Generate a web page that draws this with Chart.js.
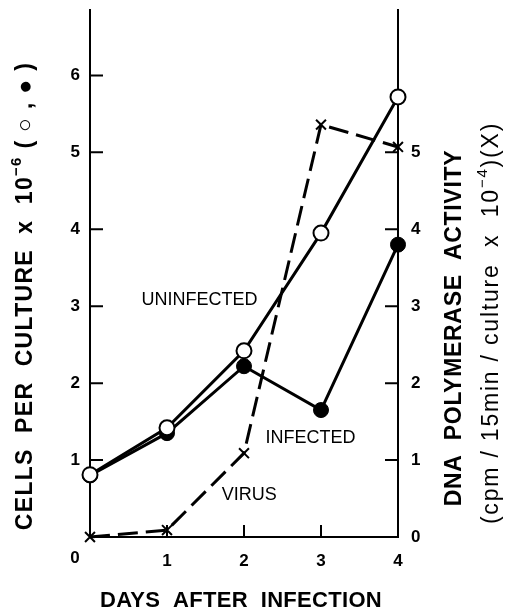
<!DOCTYPE html>
<html>
<head>
<meta charset="utf-8">
<script src="https://cdn.jsdelivr.net/npm/chart.js@4"></script>
<style>
  body { margin: 0; background: #fff; }
  #wrap { width: 508px; height: 610px; }
</style>
</head>
<body>
<div id="wrap"><canvas id="chart" width="508" height="610"></canvas></div>
<script>
/* ===== DATA ===== */
const days = [0, 1, 2, 3, 4];
const uninfected = [0.81, 1.42, 2.42, 3.95, 5.72];   // cells x 10^-6, open circles
const infected = [0.80, 1.35, 2.22, 1.65, 3.80];     // cells x 10^-6, filled circles
const virus = [0.0, 0.09, 1.09, 5.36, 5.07];         // DNA pol activity x 10^-4
const xTicks = [0, 1, 2, 3, 4];
const leftTicks = [1, 2, 3, 4, 5, 6];
const rightTicks = [0, 1, 2, 3, 4, 5];

const FONT = "'Liberation Sans', Arial, sans-serif";

const toPts = arr => days.map((d, i) => ({ x: d, y: arr[i] }));

/* draw a line of text made of pieces (for superscripts) centred at cx,cy */
function drawRich(ctx, parts, cx, cy, rot, spacing) {
  ctx.save();
  ctx.translate(cx, cy);
  if (rot) ctx.rotate(rot);
  ctx.textBaseline = "middle";
  ctx.textAlign = "left";
  ctx.letterSpacing = (spacing || 0) + "px";
  let total = 0;
  parts.forEach(p => { ctx.font = p.font; total += ctx.measureText(p.text).width; });
  let x = -total / 2;
  parts.forEach(p => {
    ctx.font = p.font;
    ctx.fillText(p.text, x, p.dy || 0);
    x += ctx.measureText(p.text).width;
  });
  ctx.restore();
}

/* ===== EXTRAS: inward ticks, titles, curve labels ===== */
const extras = {
  id: "extras",
  afterDraw(chart) {
    const { ctx, scales } = chart;
    const x = scales.x, yl = scales.yL, yr = scales.yR;
    ctx.save();
    ctx.strokeStyle = "#000";
    ctx.lineWidth = 2;
    ctx.beginPath();
    leftTicks.forEach(v => {
      const py = yl.getPixelForValue(v);
      ctx.moveTo(x.left, py); ctx.lineTo(x.left + 13, py);
    });
    rightTicks.slice(1).forEach(v => {
      const py = yr.getPixelForValue(v);
      ctx.moveTo(x.right, py); ctx.lineTo(x.right - 13, py);
    });
    [1, 2, 3].forEach(v => {
      const px = x.getPixelForValue(v);
      ctx.moveTo(px, yl.bottom); ctx.lineTo(px, yl.bottom - 12);
    });
    ctx.stroke();

    ctx.fillStyle = "#000";
    // "0" day label sits left of the corner
    ctx.font = "bold 17px " + FONT;
    ctx.textAlign = "center";
    ctx.textBaseline = "middle";
    ctx.fillText("0", x.getPixelForValue(0) - 15, 558);

    // curve labels
    ctx.font = "18px " + FONT;
    ctx.textAlign = "left";
    ctx.fillText("UNINFECTED", x.getPixelForValue(0.67), yl.getPixelForValue(3.08));
    ctx.fillText("INFECTED", x.getPixelForValue(2.28), yl.getPixelForValue(1.28));
    ctx.fillText("VIRUS", x.getPixelForValue(1.71), yl.getPixelForValue(0.55));

    // axis titles
    const big = "bold 23px " + FONT, sup = "bold 15px " + FONT;
    drawRich(ctx, [
      { text: "CELLS  PER  CULTURE  x  10", font: big },
      { text: "\u22126", font: sup, dy: -9 },
      { text: " ( \u25CB , \u25CF )", font: big }
    ], 26, 296, -Math.PI / 2, 1.3);

    drawRich(ctx, [{ text: "DNA  POLYMERASE  ACTIVITY", font: big }], 455, 328, -Math.PI / 2, 0.7);

    const mid = "23px " + FONT, sup2 = "15px " + FONT;
    drawRich(ctx, [
      { text: "(cpm / 15min / culture  x  10", font: mid },
      { text: "\u22124", font: sup2, dy: -9 },
      { text: ")(X)", font: mid }
    ], 492, 323, -Math.PI / 2, 1.8);

    drawRich(ctx, [{ text: "DAYS  AFTER  INFECTION", font: "bold 22px " + FONT }], 241, 601, 0, 0.3);
    ctx.restore();
  }
};

/* ===== CHART ===== */
new Chart(document.getElementById("chart"), {
  type: "line",
  data: {
    datasets: [
      {
        label: "Uninfected",
        data: toPts(uninfected),
        yAxisID: "yL",
        borderColor: "#000",
        borderWidth: 3,
        pointStyle: "circle",
        pointRadius: 7.5,
        pointBackgroundColor: "#fff",
        pointBorderColor: "#000",
        pointBorderWidth: 2,
        tension: 0,
        clip: false
      },
      {
        label: "Infected",
        data: toPts(infected),
        yAxisID: "yL",
        borderColor: "#000",
        borderWidth: 3,
        pointStyle: "circle",
        pointRadius: 7.5,
        pointBackgroundColor: "#000",
        pointBorderColor: "#000",
        pointBorderWidth: 1,
        tension: 0,
        clip: false
      },
      {
        label: "Virus",
        data: toPts(virus),
        yAxisID: "yR",
        borderColor: "#000",
        borderWidth: 3,
        borderDash: [20, 8],
        pointStyle: "crossRot",
        pointRadius: 7,
        pointBorderColor: "#000",
        pointBorderWidth: 2,
        tension: 0,
        clip: false
      }
    ]
  },
  options: {
    responsive: false,
    animation: false,
    events: [],
    layout: { padding: { top: 10 } },
    plugins: { legend: { display: false }, tooltip: { enabled: false } },
    scales: {
      x: {
        type: "linear",
        min: 0, max: 4,
        afterBuildTicks: s => { s.ticks = xTicks.map(v => ({ value: v })); },
        afterFit: s => { s.height = 73; s.paddingLeft = 0; s.paddingRight = 0; },
        grid: { display: false, drawTicks: false },
        border: { display: true, color: "#000", width: 2 },
        ticks: {
          color: "#000",
          padding: 14,
          font: { family: FONT, size: 17, weight: "bold" },
          callback: v => (v === 0 ? "" : String(v))
        }
      },
      yL: {
        position: "left",
        min: 0, max: 6.85,
        afterBuildTicks: s => { s.ticks = leftTicks.map(v => ({ value: v })); },
        afterFit: s => { s.width = 90; s.paddingTop = 0; s.paddingBottom = 0; },
        grid: { display: false, drawTicks: false },
        border: { display: true, color: "#000", width: 2 },
        ticks: {
          color: "#000",
          padding: 10,
          font: { family: FONT, size: 17, weight: "bold" }
        }
      },
      yR: {
        position: "right",
        min: 0, max: 6.85,
        afterBuildTicks: s => { s.ticks = rightTicks.map(v => ({ value: v })); },
        afterFit: s => { s.width = 110; s.paddingTop = 0; s.paddingBottom = 0; },
        grid: { display: false, drawTicks: false },
        border: { display: true, color: "#000", width: 2 },
        ticks: {
          color: "#000",
          padding: 13,
          font: { family: FONT, size: 17, weight: "bold" }
        }
      }
    }
  },
  plugins: [extras]
});
</script>
</body>
</html>
